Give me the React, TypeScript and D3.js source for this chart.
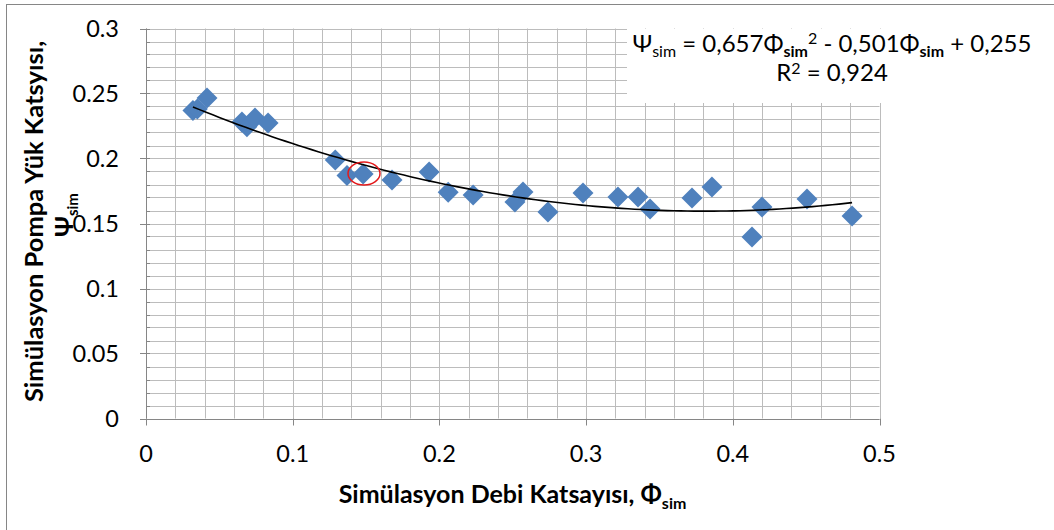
import * as d3 from 'd3';

// Simülasyon verisi
const phiSim = [
    0.032, 0.035, 0.0416, 0.0654, 0.0688, 0.0743, 0.0832, 0.129, 0.137, 0.148,
    0.1677, 0.193, 0.206, 0.223, 0.2515, 0.257, 0.274, 0.2979, 0.3217, 0.3354,
    0.3436, 0.3722, 0.3858, 0.4131, 0.4199, 0.4506, 0.4813,
];
const psiSim = [
    0.237, 0.238, 0.2465, 0.228, 0.2245, 0.2312, 0.2273, 0.1988, 0.187, 0.188,
    0.1835, 0.1896, 0.174, 0.1719, 0.1665, 0.1742, 0.1588, 0.1735, 0.1704, 0.1704,
    0.1612, 0.1696, 0.1781, 0.1396, 0.1627, 0.1688, 0.1558,
];
// trend line: psi = a*phi^2 + b*phi + c
const fitCoef = [0.657, -0.501, 0.255];
const xTicks = [0, 0.1, 0.2, 0.3, 0.4, 0.5];
const yTicks = [0, 0.05, 0.1, 0.15, 0.2, 0.25, 0.3];
const highlight = { x: 0.1486, y: 0.1885 };

const W = 1054;
const H = 530;
const FONT = 'Lato, "Open Sans", sans-serif';

export default function App() {
    const x = d3.scaleLinear().domain([0, 0.5]).range([146, 879.5]);
    const y = d3.scaleLinear().domain([0, 0.3]).range([418.5, 28.5]);

    const xGrid = d3.range(0, 0.5001, 0.02);
    const yGrid = d3.range(0, 0.3001, 0.01);

    const xMin = d3.min(phiSim) as number;
    const xMax = d3.max(phiSim) as number;
    const fitPts = d3.range(0, 101).map(i => {
        const p = xMin + (xMax - xMin) * i / 100;
        return [p, fitCoef[0] * p * p + fitCoef[1] * p + fitCoef[2]] as [number, number];
    });
    const line = d3.line<[number, number]>()
        .x(d => x(d[0]))
        .y(d => y(d[1]));

    const diamond = d3.symbol().type(d3.symbolSquare).size(220)();

    const gridColor = '#bcbcbc';
    const axisColor = '#868686';

    return (
        <svg width={W} height={H} style={{ position: 'absolute', left: 0, top: 0, background: '#fff' }}
            fontFamily={FONT}>
            <rect x={6.5} y={4.5} width={1100} height={600} fill="#fff" stroke={axisColor} />

            {/* grid */}
            {xGrid.map((v, i) => (
                <line key={'gx' + i} x1={Math.round(x(v)) + 0.5} x2={Math.round(x(v)) + 0.5}
                    y1={y(0.3)} y2={y(0)} stroke={gridColor} />
            ))}
            {yGrid.map((v, i) => (
                <line key={'gy' + i} x1={x(0)} x2={x(0.5)}
                    y1={Math.round(y(v)) + 0.5} y2={Math.round(y(v)) + 0.5} stroke={gridColor} />
            ))}

            {/* axes */}
            <line x1={x(0) + 0.5} x2={x(0) + 0.5} y1={y(0.3)} y2={y(0)} stroke={axisColor} />
            <line x1={x(0)} x2={x(0.5)} y1={Math.round(y(0)) + 0.5} y2={Math.round(y(0)) + 0.5} stroke={axisColor} />
            {yTicks.map((v, i) => (
                <g key={'yt' + i}>
                    <line x1={x(0) - 6} x2={x(0)} y1={Math.round(y(v)) + 0.5} y2={Math.round(y(v)) + 0.5} stroke={axisColor} />
                    <text x={119} y={y(v) + 8} textAnchor="end" fontSize={23.5} fill="#000">{v}</text>
                </g>
            ))}
            {yGrid.map((v, i) => (
                <line key={'ym' + i} x1={x(0)} x2={x(0) + 4} y1={Math.round(y(v)) + 0.5} y2={Math.round(y(v)) + 0.5} stroke={axisColor} />
            ))}
            {xTicks.map((v, i) => (
                <g key={'xt' + i}>
                    <line x1={Math.round(x(v)) + 0.5} x2={Math.round(x(v)) + 0.5} y1={y(0)} y2={y(0) + 7} stroke={axisColor} />
                    <text x={x(v)} y={462} textAnchor="middle" fontSize={23.5} fill="#000">{v}</text>
                </g>
            ))}

            {/* equation box */}
            <rect x={627} y={29} width={420} height={74} fill="#fff" />
            <text x={832} y={52} textAnchor="middle" fontSize={24} fill="#000">
                <tspan>Ψ</tspan>
                <tspan fontSize={16} dy={5}>sim</tspan>
                <tspan dy={-5}> = 0,657Φ</tspan>
                <tspan fontSize={16} dy={5} fontWeight="bold">sim</tspan>
                <tspan fontSize={16} dy={-13}>2</tspan>
                <tspan dy={8}> - 0,501Φ</tspan>
                <tspan fontSize={16} dy={5} fontWeight="bold">sim</tspan>
                <tspan dy={-5}> + 0,255</tspan>
            </text>
            <text x={832} y={81} textAnchor="middle" fontSize={24} fill="#000">
                <tspan>R</tspan>
                <tspan fontSize={16} dy={-7}>2</tspan>
                <tspan dy={7}> = 0,924</tspan>
            </text>

            {/* points */}
            {phiSim.map((p, i) => (
                <path key={'pt' + i} d={diamond}
                    transform={`translate(${x(p)},${y(psiSim[i])}) rotate(45)`}
                    fill="#4f81bd" />
            ))}

            {/* trend line */}
            <path d={line(fitPts) ?? ''} fill="none" stroke="#000" strokeWidth={1.6} />

            <ellipse cx={x(highlight.x)} cy={y(highlight.y)} rx={16} ry={11.5}
                fill="none" stroke="#e31a1c" strokeWidth={1.5} />

            {/* axis titles */}
            <text x={512.5} y={503} textAnchor="middle" fontSize={25} fontWeight="bold" fill="#000">
                <tspan>Simülasyon Debi Katsayısı, Φ</tspan>
                <tspan fontSize={16} dy={6}>sim</tspan>
            </text>
            <text transform="translate(43,221.5) rotate(-90)" textAnchor="middle" fontSize={25.5}
                fontWeight="bold" fill="#000">Simülasyon Pompa Yük Katsyısı,</text>
            <text transform="translate(73,215) rotate(-90)" textAnchor="middle" fontSize={25}
                fontWeight="bold" fill="#000">
                <tspan>Ψ</tspan>
                <tspan fontSize={15} dy={5}>sim</tspan>
            </text>
        </svg>
    );
}
